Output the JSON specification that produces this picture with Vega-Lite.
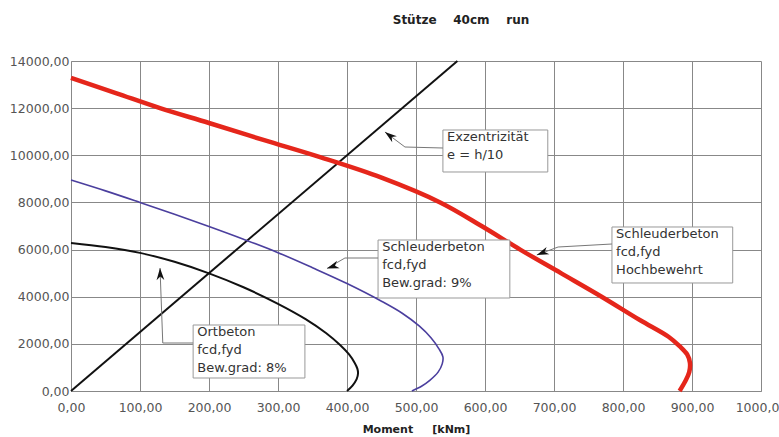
{
  "$schema": "https://vega.github.io/schema/vega-lite/v6.json",
  "width": 690,
  "height": 330,
  "autosize": {"type": "none"},
  "padding": {"left": 71, "top": 61, "right": 18, "bottom": 46},
  "background": "white",
  "title": {
    "text": "Stütze\u00a0\u00a0\u00a0\u00a040cm\u00a0\u00a0\u00a0\u00a0run",
    "font": "DejaVu Sans",
    "fontSize": 12,
    "fontWeight": "bold",
    "color": "#222",
    "dx": 45,
    "offset": 28
  },
  "config": {
    "view": {"stroke": null},
    "axis": {
      "labelFont": "DejaVu Sans",
      "labelFontSize": 12.5,
      "labelColor": "#555",
      "gridColor": "#888",
      "gridOpacity": 1,
      "domainColor": "#888",
      "ticks": false,
      "labelOverlap": false,
      "labelFlush": false,
      "labelBound": false,
      "labelExpr": "replace(format(datum.value, '.2f'), '.', ',')"
    }
  },
  "datasets": {
    "curves": [
      {"series": "red", "i": 0, "M": 0, "N": 13280},
      {"series": "red", "i": 1, "M": 65, "N": 12640},
      {"series": "red", "i": 2, "M": 129, "N": 12000},
      {"series": "red", "i": 3, "M": 200, "N": 11370},
      {"series": "red", "i": 4, "M": 280, "N": 10640},
      {"series": "red", "i": 5, "M": 361, "N": 9920},
      {"series": "red", "i": 6, "M": 450, "N": 9050},
      {"series": "red", "i": 7, "M": 535, "N": 8000},
      {"series": "red", "i": 8, "M": 595, "N": 7000},
      {"series": "red", "i": 9, "M": 651, "N": 6000},
      {"series": "red", "i": 10, "M": 710, "N": 5000},
      {"series": "red", "i": 11, "M": 769, "N": 4000},
      {"series": "red", "i": 12, "M": 825, "N": 3000},
      {"series": "red", "i": 13, "M": 866, "N": 2300},
      {"series": "red", "i": 14, "M": 882, "N": 1900},
      {"series": "red", "i": 15, "M": 893, "N": 1550},
      {"series": "red", "i": 16, "M": 897, "N": 1200},
      {"series": "red", "i": 17, "M": 896, "N": 800},
      {"series": "red", "i": 18, "M": 890, "N": 400},
      {"series": "red", "i": 19, "M": 882, "N": 0},
      {"series": "blue", "i": 0, "M": 0, "N": 8950},
      {"series": "blue", "i": 1, "M": 50, "N": 8490},
      {"series": "blue", "i": 2, "M": 100, "N": 8000},
      {"series": "blue", "i": 3, "M": 150, "N": 7500},
      {"series": "blue", "i": 4, "M": 200, "N": 6980},
      {"series": "blue", "i": 5, "M": 250, "N": 6440},
      {"series": "blue", "i": 6, "M": 300, "N": 5870},
      {"series": "blue", "i": 7, "M": 350, "N": 5230},
      {"series": "blue", "i": 8, "M": 400, "N": 4560},
      {"series": "blue", "i": 9, "M": 450, "N": 3810},
      {"series": "blue", "i": 10, "M": 480, "N": 3300},
      {"series": "blue", "i": 11, "M": 505, "N": 2750},
      {"series": "blue", "i": 12, "M": 522, "N": 2250},
      {"series": "blue", "i": 13, "M": 533, "N": 1800},
      {"series": "blue", "i": 14, "M": 539, "N": 1450},
      {"series": "blue", "i": 15, "M": 538, "N": 1150},
      {"series": "blue", "i": 16, "M": 532, "N": 800},
      {"series": "blue", "i": 17, "M": 520, "N": 450},
      {"series": "blue", "i": 18, "M": 508, "N": 200},
      {"series": "blue", "i": 19, "M": 494, "N": 0},
      {"series": "black", "i": 0, "M": 0, "N": 6280},
      {"series": "black", "i": 1, "M": 50, "N": 6110},
      {"series": "black", "i": 2, "M": 100, "N": 5860},
      {"series": "black", "i": 3, "M": 150, "N": 5480},
      {"series": "black", "i": 4, "M": 200, "N": 4990},
      {"series": "black", "i": 5, "M": 250, "N": 4400},
      {"series": "black", "i": 6, "M": 300, "N": 3700},
      {"series": "black", "i": 7, "M": 340, "N": 3050},
      {"series": "black", "i": 8, "M": 370, "N": 2450},
      {"series": "black", "i": 9, "M": 390, "N": 1950},
      {"series": "black", "i": 10, "M": 403, "N": 1550},
      {"series": "black", "i": 11, "M": 411, "N": 1200},
      {"series": "black", "i": 12, "M": 415, "N": 950},
      {"series": "black", "i": 13, "M": 416, "N": 750},
      {"series": "black", "i": 14, "M": 414, "N": 500},
      {"series": "black", "i": 15, "M": 408, "N": 230},
      {"series": "black", "i": 16, "M": 400, "N": 0},
      {"series": "exz", "i": 0, "M": 0, "N": 0},
      {"series": "exz", "i": 1, "M": 560, "N": 14000}
    ],
    "boxes": [
      {"id": "A", "x1": 539, "x2": 691, "y1": 11073, "y2": 9291},
      {"id": "B", "x1": 445, "x2": 636, "y1": 6406, "y2": 3945},
      {"id": "C", "x1": 784, "x2": 959, "y1": 6958, "y2": 4582},
      {"id": "D", "x1": 177, "x2": 339, "y1": 2800, "y2": 551}
    ],
    "labels": [
      {"id": "A", "M": 545, "N": 11030, "text": "Exzentrizität\ne = h/10"},
      {"id": "B", "M": 451, "N": 6360, "text": "Schleuderbeton\nfcd,fyd\nBew.grad: 9%"},
      {"id": "C", "M": 790, "N": 6910, "text": "Schleuderbeton\nfcd,fyd\nHochbewehrt"},
      {"id": "D", "M": 183, "N": 2760, "text": "Ortbeton\nfcd,fyd\nBew.grad: 8%"}
    ],
    "arrows": [
      {"id": "A", "i": 0, "M": 539, "N": 10309},
      {"id": "A", "i": 1, "M": 484, "N": 10351},
      {"id": "A", "i": 2, "M": 455, "N": 10988},
      {"id": "B", "i": 0, "M": 445, "N": 5642},
      {"id": "B", "i": 1, "M": 397, "N": 5642},
      {"id": "B", "i": 2, "M": 371, "N": 5200},
      {"id": "C", "i": 0, "M": 784, "N": 6236},
      {"id": "C", "i": 1, "M": 706, "N": 6109},
      {"id": "C", "i": 2, "M": 675, "N": 5770},
      {"id": "D", "i": 0, "M": 177, "N": 2036},
      {"id": "D", "i": 1, "M": 133, "N": 2036},
      {"id": "D", "i": 2, "M": 129, "N": 5218}
    ],
    "heads": [
      {"id": "A", "M": 455, "N": 10988},
      {"id": "B", "M": 371, "N": 5200},
      {"id": "C", "M": 675, "N": 5770},
      {"id": "D", "M": 129, "N": 5218}
    ]
  },
  "encoding": {
    "x": {
      "field": "M", "type": "quantitative",
      "scale": {"domain": [0, 1000], "nice": false},
      "axis": {
        "values": [0, 100, 200, 300, 400, 500, 600, 700, 800, 900, 1000],
        "labelPadding": 10,
        "title": "Moment\u00a0\u00a0\u00a0\u00a0\u00a0[kNm]",
        "titleFont": "DejaVu Sans",
        "titleFontSize": 11,
        "titleFontWeight": "bold",
        "titleColor": "#222",
        "titlePadding": 10
      }
    },
    "y": {
      "field": "N", "type": "quantitative",
      "scale": {"domain": [0, 14000], "nice": false},
      "axis": {
        "values": [0, 2000, 4000, 6000, 8000, 10000, 12000, 14000],
        "labelPadding": 2,
        "title": null
      }
    }
  },
  "layer": [
    {
      "data": {"name": "curves"},
      "transform": [{"filter": "datum.series === 'exz'"}],
      "mark": {"type": "line", "color": "#111", "strokeWidth": 2},
      "encoding": {"order": {"field": "i"}}
    },
    {
      "data": {"name": "curves"},
      "transform": [{"filter": "datum.series === 'black'"}],
      "mark": {"type": "line", "color": "#111", "strokeWidth": 2, "interpolate": "catmull-rom"},
      "encoding": {"order": {"field": "i"}}
    },
    {
      "data": {"name": "curves"},
      "transform": [{"filter": "datum.series === 'blue'"}],
      "mark": {"type": "line", "color": "#4b3f9e", "strokeWidth": 1.6, "interpolate": "catmull-rom"},
      "encoding": {"order": {"field": "i"}}
    },
    {
      "data": {"name": "curves"},
      "transform": [{"filter": "datum.series === 'red'"}],
      "mark": {"type": "line", "color": "#e5261b", "strokeWidth": 4.5, "interpolate": "catmull-rom"},
      "encoding": {"order": {"field": "i"}}
    },
    {
      "data": {"name": "boxes"},
      "mark": {"type": "rect", "fill": "white", "stroke": "#999", "strokeWidth": 1},
      "encoding": {
        "x": {"field": "x1", "type": "quantitative"},
        "x2": {"field": "x2"},
        "y": {"field": "y1", "type": "quantitative"},
        "y2": {"field": "y2"}
      }
    },
    {
      "data": {"name": "labels"},
      "mark": {"type": "text", "align": "left", "baseline": "top", "lineBreak": "\n", "lineHeight": 18, "font": "DejaVu Sans", "fontSize": 13, "color": "#333"},
      "encoding": {"text": {"field": "text"}}
    },
    {
      "data": {"name": "arrows"},
      "mark": {"type": "line", "color": "#777", "strokeWidth": 1},
      "encoding": {"detail": {"field": "id"}, "order": {"field": "i"}}
    },
    {
      "data": {"name": "heads"},
      "transform": [{"filter": "datum.id === 'A'"}],
      "mark": {"type": "point", "shape": "M0,0L0.55,1.7L0,1.2L-0.55,1.7Z", "filled": true, "color": "#111", "size": 200, "angle": 307, "opacity": 1}
    },
    {
      "data": {"name": "heads"},
      "transform": [{"filter": "datum.id === 'B'"}],
      "mark": {"type": "point", "shape": "M0,0L0.55,1.7L0,1.2L-0.55,1.7Z", "filled": true, "color": "#111", "size": 200, "angle": 251, "opacity": 1}
    },
    {
      "data": {"name": "heads"},
      "transform": [{"filter": "datum.id === 'C'"}],
      "mark": {"type": "point", "shape": "M0,0L0.55,1.7L0,1.2L-0.55,1.7Z", "filled": true, "color": "#111", "size": 200, "angle": 249, "opacity": 1}
    },
    {
      "data": {"name": "heads"},
      "transform": [{"filter": "datum.id === 'D'"}],
      "mark": {"type": "point", "shape": "M0,0L0.55,1.7L0,1.2L-0.55,1.7Z", "filled": true, "color": "#111", "size": 200, "angle": 358, "opacity": 1}
    }
  ]
}
